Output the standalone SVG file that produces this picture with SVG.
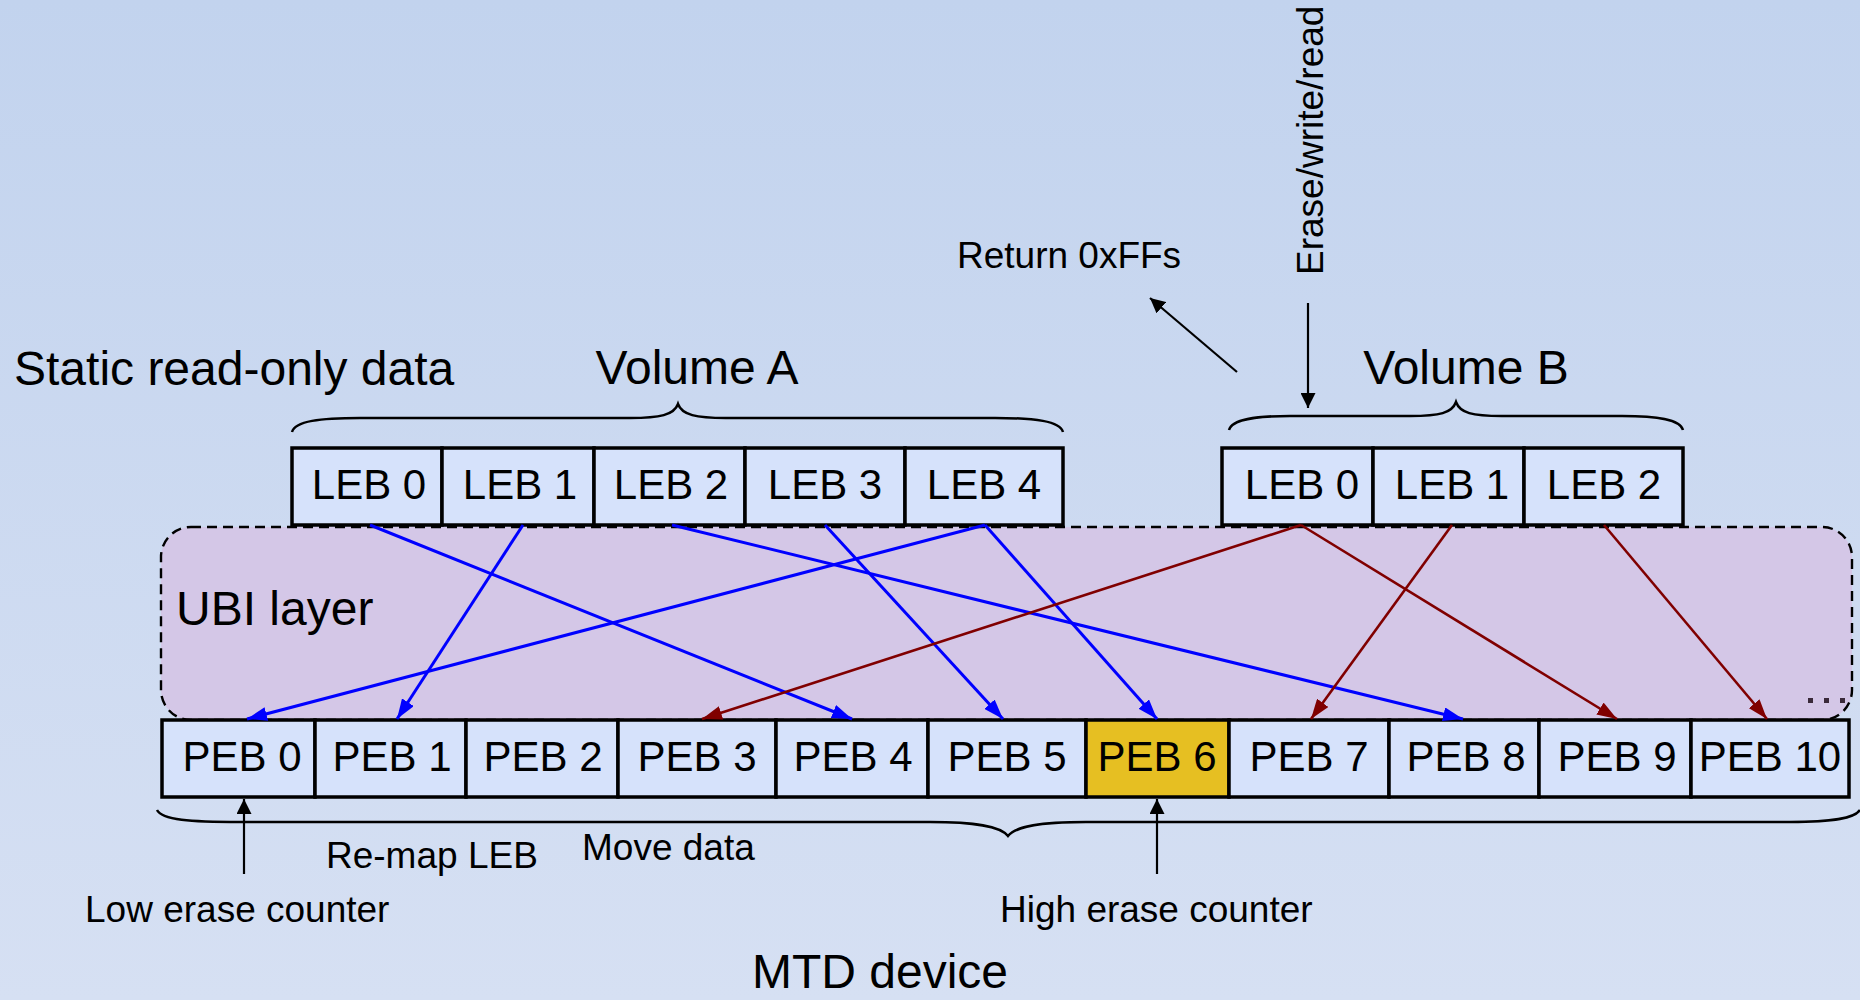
<svg xmlns="http://www.w3.org/2000/svg" width="1860" height="1000" viewBox="0 0 1860 1000">
<defs>
<linearGradient id="bg" x1="0" y1="0" x2="0" y2="1">
<stop offset="0" stop-color="#C2D3EE"/>
<stop offset="1" stop-color="#D6E0F3"/>
</linearGradient>
<marker id="ab" viewBox="0 0 20 14" refX="20" refY="7" markerWidth="20" markerHeight="14" markerUnits="userSpaceOnUse" orient="auto"><path d="M0,0 L20,7 L0,14 z" fill="#0000FF"/></marker>
<marker id="ar" viewBox="0 0 20 14" refX="20" refY="7" markerWidth="20" markerHeight="14" markerUnits="userSpaceOnUse" orient="auto"><path d="M0,0 L20,7 L0,14 z" fill="#800000"/></marker>
<marker id="ak" viewBox="0 0 15 15" refX="15" refY="7.5" markerWidth="15" markerHeight="15" markerUnits="userSpaceOnUse" orient="auto"><path d="M0,0 L15,7.5 L0,15 z" fill="#000"/></marker>
</defs>
<style>
text{font-family:"Liberation Sans",Arial,sans-serif;fill:#000}
.big{font-size:48px}
.lbl{font-size:37px}
.box{font-size:42px;text-anchor:middle}
.cell{fill:#D6E2FB;stroke:#000;stroke-width:3.5}
.gold{fill:#E6BF22}
.brace{fill:none;stroke:#000;stroke-width:2.5}
.blue{stroke:#0000FF;stroke-width:3;fill:none;marker-end:url(#ab)}
.red{stroke:#800000;stroke-width:2.6;fill:none;marker-end:url(#ar)}
.blk{stroke:#000;stroke-width:2.2;fill:none;marker-end:url(#ak)}
</style>
<rect x="0" y="0" width="1860" height="1000" fill="url(#bg)"/>

<g id="ubi-layer">
<rect x="161" y="527" width="1691" height="193" rx="30" ry="30" fill="#D4C7E7" stroke="#000" stroke-width="2.4" stroke-dasharray="10 6"/>
<text class="big" x="176" y="625">UBI layer</text>
<rect x="1808" y="698" width="5" height="5" fill="#3a2a3a"/>
<rect x="1824" y="698" width="5" height="5" fill="#3a2a3a"/>
<rect x="1840" y="698" width="5" height="5" fill="#3a2a3a"/>
</g>

<g id="labels">
<text class="big" x="14" y="385">Static read-only data</text>
<text class="lbl" x="957" y="268">Return 0xFFs</text>
<text class="lbl" transform="translate(1323,275) rotate(-90)">Erase/write/read</text>
<text class="lbl" x="326" y="868">Re-map LEB</text>
<text class="lbl" x="582" y="860">Move data</text>
<text class="lbl" x="85" y="922">Low erase counter</text>
<text class="lbl" x="1000" y="922">High erase counter</text>
<text class="big" x="752" y="988">MTD device</text>
</g>

<g id="volume-a">
<text class="big" x="697" y="384" text-anchor="middle">Volume A</text>
<path class="brace" d="M292,432 C295,421 320,418 360,418 L630,418 C660,418 674,415 678,404 C682,415 696,418 726,418 L995,418 C1035,418 1060,421 1063,432"/>
<g id="leb-a0"><rect class="cell" x="292" y="448" width="150" height="77"/><text class="box" x="369" y="499">LEB 0</text></g>
<g id="leb-a1"><rect class="cell" x="442" y="448" width="152" height="77"/><text class="box" x="520" y="499">LEB 1</text></g>
<g id="leb-a2"><rect class="cell" x="594" y="448" width="151" height="77"/><text class="box" x="671" y="499">LEB 2</text></g>
<g id="leb-a3"><rect class="cell" x="745" y="448" width="160" height="77"/><text class="box" x="825" y="499">LEB 3</text></g>
<g id="leb-a4"><rect class="cell" x="905" y="448" width="158" height="77"/><text class="box" x="984" y="499">LEB 4</text></g>
</g>

<g id="volume-b">
<text class="big" x="1466" y="384" text-anchor="middle">Volume B</text>
<path class="brace" d="M1229,430 C1232,419 1255,416 1290,416 L1410,416 C1440,416 1452,413 1456,402 C1460,413 1472,416 1502,416 L1622,416 C1657,416 1680,419 1683,430"/>
<g id="leb-b0"><rect class="cell" x="1222" y="448" width="151" height="77"/><text class="box" x="1302" y="499">LEB 0</text></g>
<g id="leb-b1"><rect class="cell" x="1373" y="448" width="151" height="77"/><text class="box" x="1452" y="499">LEB 1</text></g>
<g id="leb-b2"><rect class="cell" x="1524" y="448" width="159" height="77"/><text class="box" x="1604" y="499">LEB 2</text></g>
</g>

<g id="mtd-device">
<g id="peb0"><rect class="cell" x="162" y="720" width="153" height="77"/><text class="box" x="242" y="771">PEB 0</text></g>
<g id="peb1"><rect class="cell" x="315" y="720" width="151" height="77"/><text class="box" x="392" y="771">PEB 1</text></g>
<g id="peb2"><rect class="cell" x="466" y="720" width="152" height="77"/><text class="box" x="543" y="771">PEB 2</text></g>
<g id="peb3"><rect class="cell" x="618" y="720" width="158" height="77"/><text class="box" x="697" y="771">PEB 3</text></g>
<g id="peb4"><rect class="cell" x="776" y="720" width="152" height="77"/><text class="box" x="853" y="771">PEB 4</text></g>
<g id="peb5"><rect class="cell" x="928" y="720" width="158" height="77"/><text class="box" x="1007" y="771">PEB 5</text></g>
<g id="peb6"><rect class="cell gold" x="1086" y="720" width="143" height="77"/><text class="box" x="1157" y="771">PEB 6</text></g>
<g id="peb7"><rect class="cell" x="1229" y="720" width="160" height="77"/><text class="box" x="1309" y="771">PEB 7</text></g>
<g id="peb8"><rect class="cell" x="1389" y="720" width="150" height="77"/><text class="box" x="1466" y="771">PEB 8</text></g>
<g id="peb9"><rect class="cell" x="1539" y="720" width="152" height="77"/><text class="box" x="1617" y="771">PEB 9</text></g>
<g id="peb10"><rect class="cell" x="1691" y="720" width="158" height="77"/><text class="box" x="1770" y="771">PEB 10</text></g>
<path class="brace" d="M157,810 C162,820 190,822 240,822 L930,822 C975,822 1000,826 1008,836 C1016,826 1041,822 1086,822 L1790,822 C1835,822 1855,818 1860,810"/>
</g>

<g id="connectors">
<line class="blue" x1="370" y1="525" x2="852" y2="719"/>
<line class="blue" x1="523" y1="525" x2="397" y2="719"/>
<line class="blue" x1="672" y1="525" x2="1463" y2="719"/>
<line class="blue" x1="825" y1="525" x2="1003" y2="719"/>
<line class="blue" x1="985" y1="525" x2="247" y2="719"/>
<line class="blue" x1="985" y1="525" x2="1157" y2="719"/>
<line class="red" x1="1301" y1="525" x2="702" y2="719"/>
<line class="red" x1="1301" y1="525" x2="1617" y2="719"/>
<line class="red" x1="1452" y1="525" x2="1311" y2="719"/>
<line class="red" x1="1604" y1="525" x2="1767" y2="719"/>
<line class="blk" x1="1237" y1="372" x2="1150" y2="298"/>
<line class="blk" x1="1308" y1="303" x2="1308" y2="408"/>
<line class="blk" x1="244" y1="874" x2="244" y2="799"/>
<line class="blk" x1="1157" y1="874" x2="1157" y2="799"/>
</g>
</svg>
